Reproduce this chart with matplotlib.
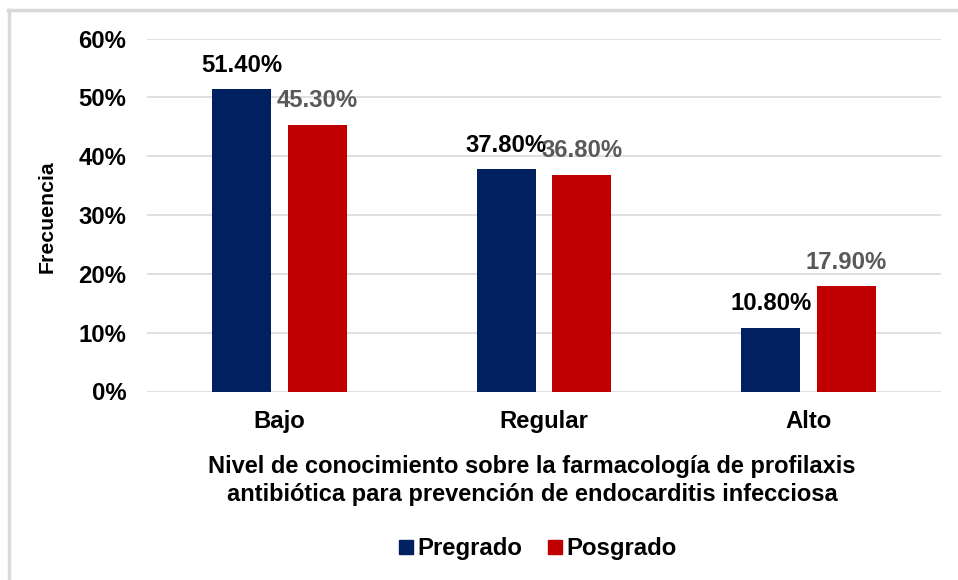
import matplotlib
matplotlib.use("Agg")
import matplotlib.pyplot as plt
from matplotlib.lines import Line2D
import numpy as np

categories = ["Bajo", "Regular", "Alto"]
pregrado = [51.4, 37.8, 10.8]
posgrado = [45.3, 36.8, 17.9]
yticks = [0, 10, 20, 30, 40, 50, 60]
series_names = ["Pregrado", "Posgrado"]

plt.rcParams['font.family'] = ['Liberation Sans', 'DejaVu Sans']
plt.rcParams['font.weight'] = 'bold'

W, H = 958, 580
fig = plt.figure(figsize=(W/100, H/100), dpi=100)
ax = fig.add_axes([147/W, 1-391.5/H, (941-147)/W, (391.5-38.5)/H])

FS = 17.2
navy = "#002060"
red = "#C00000"
x = np.arange(len(categories))
bw = 0.223
off = 0.1425
b1 = ax.bar(x - off, pregrado, bw, color=navy, zorder=3)
b2 = ax.bar(x + off, posgrado, bw, color=red, zorder=3)

for rect, v in zip(b1, pregrado):
    ax.annotate(f"{v:.2f}%", (rect.get_x()+rect.get_width()/2, v), xytext=(0, 24),
                textcoords="offset pixels", ha="center", va="center",
                fontsize=FS, fontweight="bold", color="black", zorder=5)
for rect, v in zip(b2, posgrado):
    ax.annotate(f"{v:.2f}%", (rect.get_x()+rect.get_width()/2, v), xytext=(0, 24),
                textcoords="offset pixels", ha="center", va="center",
                fontsize=FS, fontweight="bold", color="#595959", zorder=5)

ax.set_xlim(-0.5, 2.5)
ax.set_ylim(0, 60)
ax.set_yticks(yticks)
ax.set_yticklabels([f"{t}%" for t in yticks])
ax.set_xticks(x)
ax.set_xticklabels(categories)
ax.tick_params(axis='y', length=0, pad=15, labelsize=FS)
ax.tick_params(axis='x', length=0, pad=13, labelsize=FS)
for s in ax.spines.values():
    s.set_visible(False)
ax.yaxis.grid(True, color="#d9d9d9", linewidth=1.2, zorder=0)
ax.set_axisbelow(True)

fig.text(47/W, 1-217/H, "Frecuencia", rotation=90, ha="center", va="center",
         fontsize=15.3, fontweight="bold")
fig.text(532/W, 1-466/H, "Nivel de conocimiento sobre la farmacología de profilaxis",
         ha="center", va="center", fontsize=17.0, fontweight="bold")
fig.text(532/W, 1-494/H, "antibiótica para prevención de endocarditis infecciosa",
         ha="center", va="center", fontsize=17.0, fontweight="bold")

handles = [Line2D([], [], marker="s", linestyle="none", markersize=9.5, color=navy),
           Line2D([], [], marker="s", linestyle="none", markersize=9.5, color=red)]
fig.legend(handles, series_names, loc="center", bbox_to_anchor=(536/W, 1-549/H),
           ncol=2, frameon=False, fontsize=FS, handletextpad=0.05, columnspacing=0.9,
           handlelength=0.9)

# figure border (top and left)
fig.add_artist(Line2D([8/W, 1], [1-10/H, 1-10/H], color="#d9d9d9", linewidth=2.5))
fig.add_artist(Line2D([9/W, 9/W], [0, 1-10/H], color="#d9d9d9", linewidth=2.5))

fig.savefig("out.png", dpi=100)
